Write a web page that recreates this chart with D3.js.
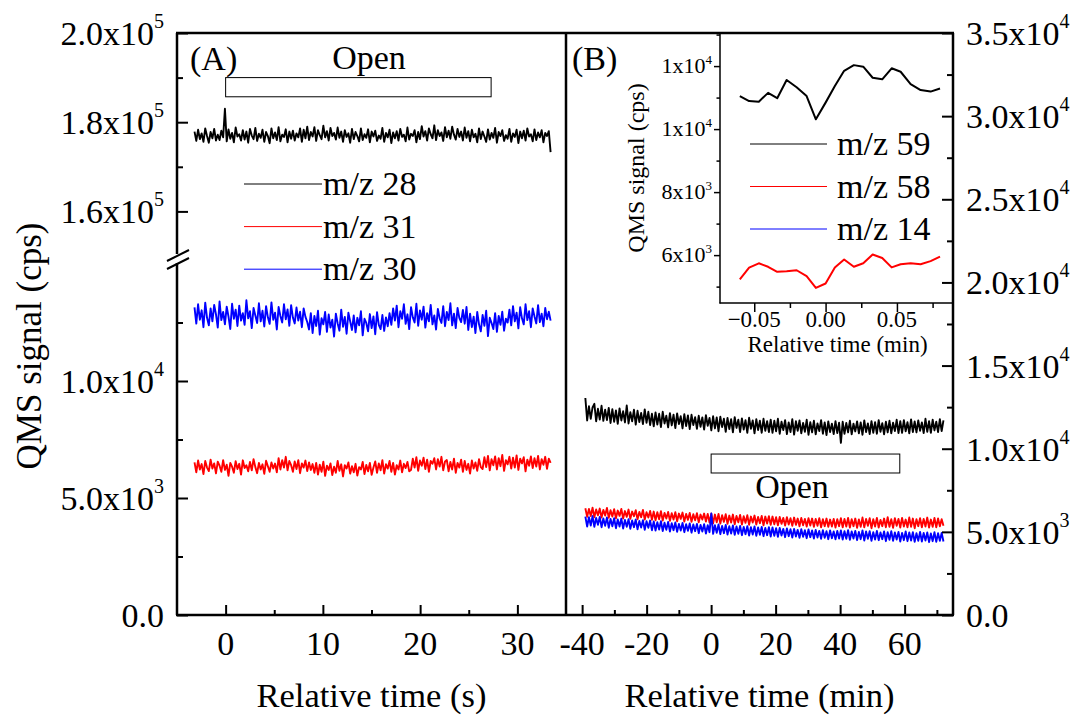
<!DOCTYPE html>
<html><head><meta charset="utf-8">
<script src="https://cdn.jsdelivr.net/npm/d3@7"></script>
<style>
html,body{margin:0;padding:0;background:#fff;}
svg, svg text{font-family:"Liberation Serif","Times New Roman","DejaVu Serif",serif;}
</style></head><body>
<svg id="chart" width="1073" height="716" font-family="Liberation Serif, Times New Roman, serif"></svg>
<script>
// ---------------- DATA ----------------
// Panel A: relative time (s), regular sampling; values in kcps
const timeA = {start: -3.2, step: 0.184};
const mz28 = [177.9,175.8,178.3,176.2,177.5,175.6,178.6,176.9,175.4,177.8,176.4,178.5,175.9,177.2,176.0,178.1,176.6,
183.0,
175.7,178.4,176.3,177.6,175.5,178.8,176.8,177.3,175.9,178.2,176.1,177.9,175.4,178.5,177.0,176.2,178.7,175.8,177.4,176.5,178.3,175.6,177.8,176.9,175.3,178.6,176.4,177.7,176.0,178.9,175.7,177.2,176.7,178.4,175.5,177.9,176.3,178.1,175.9,177.5,176.6,178.6,175.6,
178.3,176.4,179.0,176.0,177.8,176.8,178.9,175.8,178.2,177.1,176.2,179.2,176.6,178.0,175.9,178.7,176.9,177.6,176.1,178.8,176.5,177.9,
175.6,178.2,176.7,177.5,175.4,178.5,176.2,177.8,176.9,175.7,178.6,176.0,177.3,176.5,178.4,175.5,177.9,176.8,178.1,175.8,177.0,176.3,178.7,175.6,177.6,176.6,178.3,175.3,177.7,176.4,178.0,175.9,178.5,176.7,177.2,175.7,178.8,176.1,177.4,176.9,178.2,175.5,177.8,
176.2,179.1,176.8,178.0,175.9,178.6,177.3,176.4,179.3,176.0,178.2,176.9,177.7,175.8,178.9,176.6,178.1,176.3,179.0,177.2,176.1,178.5,176.7,177.9,175.9,178.8,176.5,178.0,
175.7,178.3,176.6,177.4,175.5,178.6,176.2,177.9,176.8,175.6,178.4,176.1,177.6,176.5,178.7,175.4,177.8,176.9,178.2,175.8,177.1,176.3,178.5,175.6,177.5,176.7,178.3,175.3,177.9,176.4,178.1,175.9,178.6,176.8,177.3,175.7,178.4,176.0,177.7,176.6,178.2,175.5,177.6,176.9,178.0,
173.3];
const mz31 = [6.52,6.10,6.60,6.22,6.45,6.02,6.58,6.30,6.15,6.64,6.26,6.48,6.05,6.55,6.38,6.12,6.62,6.20,6.42,5.95,6.50,6.34,6.08,6.57,6.24,6.46,6.00,6.61,6.28,6.40,6.14,6.54,6.18,6.66,6.32,6.06,6.50,6.22,6.44,6.03,6.59,6.36,6.12,6.52,6.26,6.47,6.10,
6.70,6.22,6.62,6.30,6.76,6.18,6.58,6.40,
6.12,6.56,6.24,6.62,6.06,6.48,6.30,6.60,6.15,6.52,6.20,6.45,6.08,
6.50,6.00,6.42,6.12,6.55,5.95,6.38,6.20,6.48,5.98,6.34,6.08,6.58,6.16,6.44,5.92,6.40,6.26,6.52,6.04,6.36,6.10,6.46,5.96,6.32,6.22,6.54,6.02,6.41,6.14,6.50,5.99,6.30,
6.56,6.08,6.48,6.18,6.62,6.04,6.44,6.26,6.58,6.12,6.50,6.00,6.40,6.22,6.60,6.10,6.46,6.28,6.54,6.14,
6.20,6.68,6.30,6.74,6.16,6.60,6.38,6.72,6.24,6.64,6.12,6.58,6.46,6.70,6.22,6.66,6.34,6.76,6.18,6.56,
6.62,6.14,6.54,6.22,6.68,6.08,6.50,6.30,6.64,6.12,6.58,6.20,6.46,6.04,6.60,6.26,6.52,6.16,6.66,6.32,
6.24,6.74,6.32,6.80,6.18,6.66,6.40,6.78,6.22,6.70,6.36,6.84,6.16,6.62,6.44,6.76,6.26,6.72,6.30,6.82,6.20,6.68,6.48,6.74,6.14,6.64,6.38,6.78,6.28,6.70,6.34,6.80,6.22,6.66,6.42,6.76,6.25,6.68,6.50];
const mz30 = [13.15,12.45,13.28,12.62,13.02,12.30,13.35,12.70,12.38,13.10,12.55,13.25,12.85,12.28,13.40,12.60,12.95,12.42,13.18,12.75,12.22,13.30,12.66,13.05,12.35,13.22,12.58,12.90,12.40,13.45,12.68,12.98,12.26,13.12,12.80,12.48,13.32,12.55,13.00,12.33,13.20,12.72,12.44,13.36,12.62,12.92,12.20,13.16,12.78,12.50,13.28,12.64,13.06,12.36,13.24,12.70,12.46,13.14,12.58,12.96,12.30,13.10,12.74,12.52,
12.20,12.90,12.05,12.78,12.35,13.00,11.98,12.68,12.42,12.95,12.10,12.84,12.28,12.62,11.90,12.88,12.46,12.15,13.05,12.32,12.74,12.02,12.92,12.55,12.18,12.80,12.08,12.70,12.38,12.98,11.95,12.66,12.48,12.12,12.86,12.26,12.76,12.00,12.94,12.40,12.22,12.82,12.14,12.72,12.34,12.90,
12.40,13.10,12.58,13.22,12.30,12.98,12.66,13.28,12.44,12.85,12.22,13.15,12.72,12.50,13.30,12.36,13.02,12.62,13.18,12.28,12.90,12.55,13.25,12.42,12.80,12.20,13.08,12.68,12.48,13.20,12.34,12.95,12.60,13.32,12.38,12.88,12.26,13.12,12.70,12.52,13.04,12.45,13.16,
12.18,12.88,12.30,12.75,12.05,12.95,12.42,12.12,12.82,12.36,13.00,11.92,12.70,12.48,12.22,12.90,12.10,12.78,12.40,12.96,12.15,12.66,12.50,
13.05,12.38,13.20,12.55,12.92,12.25,13.15,12.68,12.42,13.28,12.60,12.98,12.30,13.10,12.76,12.46,13.24,12.52,12.88,12.34,13.12,12.64,12.96,12.58];

// Panel B: relative time (min), regular sampling; values in kcps
const timeB = {start: -39, step: 0.558};
const mz59 = [13.05,11.70,12.55,11.80,12.48,12.70,11.65,12.40,11.75,12.58,11.68,12.35,11.72,
12.45,11.55,12.38,11.62,12.30,11.50,12.42,11.70,12.25,11.58,12.60,11.52,12.20,11.65,12.34,11.45,12.28,11.60,12.15,11.48,12.36,11.56,12.22,11.42,12.10,
11.35,12.18,11.45,12.10,11.30,12.22,11.52,11.98,11.28,12.14,11.40,12.05,11.24,12.12,11.48,11.95,11.22,12.08,11.36,12.00,11.18,12.04,11.42,11.90,11.20,11.98,11.32,11.88,11.15,12.02,11.38,11.85,
11.10,11.95,11.22,11.88,11.05,11.92,11.30,11.80,11.02,11.85,11.18,11.78,10.98,11.90,11.25,11.75,11.00,11.82,11.15,11.72,10.95,11.86,11.20,11.70,10.92,11.78,11.12,11.68,10.96,11.80,11.08,11.66,11.00,
11.75,10.95,11.68,11.05,11.80,10.90,11.62,11.12,11.72,10.88,11.58,11.00,11.78,10.85,11.65,11.08,11.70,10.92,11.55,11.02,11.74,10.84,11.60,10.98,11.68,10.86,11.52,11.06,11.72,10.90,11.58,10.82,11.64,11.00,11.50,10.88,11.66,10.94,11.56,
10.35,
11.62,10.90,11.55,10.98,11.68,10.86,11.50,11.04,11.64,10.92,11.58,10.84,11.70,11.00,11.52,10.88,11.66,10.96,11.60,10.90,11.72,11.02,11.54,10.86,11.62,10.98,11.68,10.92,11.56,11.06,11.74,10.94,
11.66,10.95,11.72,11.05,11.60,10.92,11.76,11.00,11.64,10.98,11.70,11.08,11.58,10.94,11.80,11.02,11.66,10.96,11.74,11.10,11.62,11.00,11.78,11.06,11.70];
const mz58 = [6.42,5.90,6.38,5.95,6.45,5.88,6.35,6.00,6.40,5.86,6.32,5.98,6.44,5.84,6.30,5.92,6.36,5.82,6.28,5.96,6.38,5.80,6.25,5.90,6.34,5.78,6.22,5.94,6.30,5.76,6.20,5.88,6.32,5.74,6.18,5.86,6.26,5.72,
6.22,5.70,6.18,5.76,6.24,5.68,6.14,5.80,6.20,5.66,6.12,5.74,6.18,5.64,6.10,5.78,6.16,5.62,6.08,5.72,6.14,5.60,6.06,5.70,6.12,5.58,6.04,5.74,6.10,5.62,6.08,5.56,
6.10,5.52,6.04,5.58,6.08,5.50,6.00,5.60,6.06,5.48,5.98,5.56,6.04,5.46,5.96,5.58,6.02,5.44,5.94,5.54,6.00,5.42,5.92,5.56,5.98,5.44,5.90,5.52,5.96,5.40,5.92,5.50,5.94,
5.42,5.92,5.46,5.88,5.40,5.90,5.48,5.84,5.38,5.88,5.44,5.82,5.36,5.86,5.42,5.80,5.34,5.84,5.40,5.78,5.32,5.82,5.38,5.80,5.30,5.78,5.36,5.82,5.28,5.76,5.34,5.80,5.30,5.74,5.32,5.78,5.26,5.76,5.34,
5.82,5.28,5.78,5.32,5.84,5.26,5.76,5.34,5.80,5.24,5.74,5.30,5.86,5.28,5.78,5.36,5.82,5.22,5.76,5.32,5.84,5.26,5.72,5.34,5.80,5.28,5.88,5.30,5.76,5.24,5.82,5.36,5.78,5.26,5.84,5.32,5.74,5.28,5.86,5.30,5.80,5.22,5.76,5.34,5.82,5.28,5.78,5.32,5.86,5.26,5.74,5.30,5.84,5.28,5.80,5.34,5.76,5.36];
const mz14 = [5.92,5.32,5.88,5.38,5.95,5.30,5.84,5.42,5.90,5.28,5.80,5.36,5.86,5.25,5.78,5.34,5.82,5.22,5.74,5.32,5.80,5.20,5.72,5.30,5.76,5.18,5.68,5.28,5.74,5.15,5.66,5.26,5.70,5.12,5.64,5.24,5.68,5.10,
5.62,5.08,5.58,5.14,5.64,5.05,5.55,5.12,5.60,5.02,5.52,5.10,5.56,5.00,5.48,5.08,5.54,4.98,5.46,5.06,5.50,4.95,5.44,5.04,5.48,4.92,5.42,5.02,5.46,4.90,5.40,4.98,
6.10,4.88,5.40,4.94,5.44,4.86,5.36,4.92,5.42,4.84,5.34,4.90,5.38,4.82,5.32,4.88,5.36,4.80,5.30,4.86,5.34,4.78,5.28,4.84,5.32,4.76,5.26,4.82,5.30,4.74,5.24,4.80,5.28,
4.72,5.26,4.76,5.22,4.70,5.24,4.78,5.18,4.68,5.20,4.74,5.16,4.66,5.18,4.72,5.12,4.64,5.16,4.70,5.10,4.62,5.14,4.68,5.08,4.60,5.12,4.66,5.06,4.58,5.10,4.64,5.04,4.56,5.08,4.62,5.02,4.55,5.06,4.60,
5.08,4.54,5.04,4.58,5.10,4.52,5.02,4.60,5.06,4.50,5.00,4.56,5.08,4.48,5.02,4.58,5.04,4.46,4.98,4.54,5.06,4.50,4.96,4.56,5.02,4.44,4.98,4.52,5.04,4.46,4.96,4.54,5.00,4.42,4.94,4.50,5.02,4.44,4.96,4.48,4.98,4.40,4.92,4.46,5.00,4.42,4.94,4.48,4.96,4.38,4.90,4.44,4.98,4.40,4.92,4.46,4.94,4.42];

// Inset: relative time (min), cps
const insetT = [-0.0601,-0.0536,-0.0468,-0.0403,-0.0339,-0.0273,-0.0203,-0.0133,-0.0068,0.0000,0.0065,0.0130,0.0198,0.0264,0.0330,0.0397,0.0463,0.0526,0.0596,0.0666,0.0736,0.0802];
const inset59 = [11050,10890,10870,11150,10980,11560,11330,11050,10310,10840,11370,11850,12030,11980,11630,11580,11930,11820,11430,11240,11190,11290];
const inset58 = [5230,5600,5740,5630,5470,5490,5520,5330,4960,5100,5610,5860,5630,5740,6020,5910,5610,5710,5740,5710,5810,5950];

// legends
const legendA = [{label:"m/z 28", color:"#000000"},{label:"m/z 31", color:"#ff0000"},{label:"m/z 30", color:"#0000ff"}];
const legendB = [{label:"m/z 59", color:"#000000"},{label:"m/z 58", color:"#ff0000"},{label:"m/z 14", color:"#0000ff"}];

// "Open" valve periods
const openA = {t0: 0, t1: 27.3, lo: 185700, hi: 190000};
const openB = {t0: 0, t1: 58.5, lo: 8540, hi: 9680};

// tick values
const ticksAx = [0,10,20,30], ticksAxMinor = [5,15,25];
const ticksBx = [-40,-20,0,20,40,60], ticksBxMinor = [-30,-10,10,30,50,70];
const ticksUp = [160000,180000,200000], ticksUpMinor = [170000,190000];
const ticksLo = [0,5000,10000], ticksLoMinor = [2500,7500,12500];
const ticksR = [0,5000,10000,15000,20000,25000,30000,35000], ticksRMinor = [2500,7500,12500,17500,22500,27500,32500];
const ticksIx = [-0.05,0,0.05], ticksIxMinor = [-0.025,0.025,0.075];
const ticksIy = [6000,8000,10000,12000], ticksIyMinor = [5000,7000,9000,11000,13000];

// ---------------- LAYOUT ----------------
const FONT = "Liberation Serif, Times New Roman, serif";
const svg = d3.select("#chart");
const L=177, M=566, R=953, T=33, B=615;
const xA = d3.scaleLinear().domain([-5,35]).range([L,M]);
const xB = d3.scaleLinear().domain([-45,75]).range([M,R]);
const yUp = d3.scaleLinear().domain([150000,200000]).range([256,T]);
const yLo = d3.scaleLinear().domain([0,15000]).range([B,264]);
const yR = d3.scaleLinear().domain([0,35000]).range([B,T]);
const xI = d3.scaleLinear().domain([-0.074,0.0893]).range([720,R]);
const yI = d3.scaleLinear().domain([4480,13050]).range([303,T]);

const tA = mz28.map((_,i)=>timeA.start + i*timeA.step);
const tB = mz59.map((_,i)=>timeB.start + i*timeB.step);

function txt(x, y, s, fs, anchor){
  return svg.append("text").attr("x",x).attr("y",y).attr("font-family",FONT)
    .attr("font-size",fs).attr("text-anchor",anchor||"start").attr("fill","#000").text(s);
}
function trace(xs, sx, sy, vals, mult, color, w){
  svg.append("path").datum(vals)
    .attr("fill","none").attr("stroke",color).attr("stroke-width",w)
    .attr("stroke-linejoin","round")
    .attr("d", d3.line().x((d,i)=>sx(xs[i])).y(d=>sy(d*mult)));
}

// main series
const TW = 1.9;
trace(tA, xA, yUp, mz28, 1000, "#000", TW);
trace(tA, xA, yLo, mz31, 1000, "#ff0000", TW);
trace(tA, xA, yLo, mz30, 1000, "#0000ff", TW);
trace(tB, xB, yR, mz59, 1000, "#000", TW);
trace(tB, xB, yR, mz58, 1000, "#ff0000", TW);
trace(tB, xB, yR, mz14, 1000, "#0000ff", TW);

// ticks
function tickSet(axisFn, scale, vals, size, tx, ty, w){
  const g = svg.append("g").attr("transform",`translate(${tx},${ty})`)
    .call(axisFn(scale).tickValues(vals).tickSize(size).tickFormat(""));
  g.select(".domain").remove();
  g.selectAll(".tick text").remove();
  g.selectAll(".tick line").attr("stroke","#000").attr("stroke-width",w||2);
  return g;
}
tickSet(d3.axisRight, yUp, ticksUp, 11, L, 0);
tickSet(d3.axisRight, yUp, ticksUpMinor, 6, L, 0);
tickSet(d3.axisRight, yLo, ticksLo, 11, L, 0);
tickSet(d3.axisRight, yLo, ticksLoMinor, 6, L, 0);
tickSet(d3.axisLeft, yR, ticksR, 11, R, 0);
tickSet(d3.axisLeft, yR, ticksRMinor, 6, R, 0);
tickSet(d3.axisTop, xA, ticksAx, 10, 0, B);
tickSet(d3.axisTop, xA, ticksAxMinor, 5, 0, B);
tickSet(d3.axisTop, xB, ticksBx, 10, 0, B);
tickSet(d3.axisTop, xB, ticksBxMinor, 5, 0, B);

// frame
const frame = svg.append("g").attr("stroke","#000").attr("stroke-width",2.5).attr("fill","none");
frame.append("line").attr("x1",L-1).attr("x2",R+1).attr("y1",T).attr("y2",T);
frame.append("line").attr("x1",L-1).attr("x2",R+1).attr("y1",B).attr("y2",B);
frame.append("line").attr("x1",M).attr("x2",M).attr("y1",T).attr("y2",B);
frame.append("line").attr("x1",R).attr("x2",R).attr("y1",T).attr("y2",B);
frame.append("line").attr("x1",L).attr("x2",L).attr("y1",T).attr("y2",yUp(150000)-2);
frame.append("line").attr("x1",L).attr("x2",L).attr("y1",yLo(15000)-1).attr("y2",B);
// axis break marks
frame.append("line").attr("x1",L-10).attr("y1",261).attr("x2",L+12).attr("y2",250).attr("stroke-width",2);
frame.append("line").attr("x1",L-10).attr("y1",269).attr("x2",L+12).attr("y2",258).attr("stroke-width",2);

// tick labels
const FS=34, SFS=20;
function sci(v, digits){
  if (v===0) return {m:"0.0", e:null};
  const e = Math.floor(Math.log10(v)+1e-9);
  return {m:(v/Math.pow(10,e)).toFixed(digits)+"x10", e:String(e)};
}
function sciText(x, y, v, digits, anchor, fs, sfs, sdy){
  const s = sci(v, digits);
  const t = txt(x, y, null, fs, anchor);
  t.append("tspan").text(s.m);
  if (s.e) t.append("tspan").attr("font-size",sfs).attr("dy",sdy).text(s.e);
}
ticksUp.forEach(v=>sciText(164, yUp(v)+12, v, 1, "end", FS, SFS, -17));
ticksLo.forEach(v=>sciText(164, yLo(v)+12, v, 1, "end", FS, SFS, -17));
ticksR.forEach(v=>sciText(966, yR(v)+12, v, 1, "start", FS, SFS, -17));
ticksAx.forEach(v=>txt(xA(v), 655, String(v), FS, "middle"));
ticksBx.forEach(v=>txt(xB(v), 655, String(v), FS, "middle"));

// axis titles
txt((L+M)/2, 707, "Relative time (s)", 34.5, "middle");
txt((M+R)/2, 707, "Relative time (min)", 34.5, "middle");
txt(0, 0, "QMS signal (cps)", 35, "middle").attr("transform","translate(41,346) rotate(-90)");

// panel letters
txt(190, 70, "(A)", FS);
txt(572, 70, "(B)", FS);

// Open annotations
svg.append("rect").attr("x",xA(openA.t0)).attr("y",yUp(openA.hi)).attr("width",xA(openA.t1)-xA(openA.t0)).attr("height",yUp(openA.lo)-yUp(openA.hi))
  .attr("fill","none").attr("stroke","#000").attr("stroke-width",1);
txt(369, 69, "Open", FS, "middle");
svg.append("rect").attr("x",xB(openB.t0)).attr("y",yR(openB.hi)).attr("width",xB(openB.t1)-xB(openB.t0)).attr("height",yR(openB.lo)-yR(openB.hi))
  .attr("fill","none").attr("stroke","#000").attr("stroke-width",1);
txt(792, 498, "Open", FS, "middle");

// legend A
legendA.forEach((d,i)=>{
  const y = 184 + i*42.6;
  svg.append("line").attr("x1",244).attr("x2",322).attr("y1",y).attr("y2",y).attr("stroke",d.color).attr("stroke-width",1);
  txt(323, y+11, d.label, FS);
});

// ---------------- INSET ----------------
trace(insetT, xI, yI, inset59, 1, "#000", 2);
trace(insetT, xI, yI, inset58, 1, "#ff0000", 2);
tickSet(d3.axisLeft, yI, ticksIy, 6, 720, 0, 1.5);
tickSet(d3.axisLeft, yI, ticksIyMinor, 3.5, 720, 0, 1.5);
tickSet(d3.axisBottom, xI, ticksIx, 9, 0, 303, 1.5);
tickSet(d3.axisBottom, xI, ticksIxMinor, 5, 0, 303, 1.5);
const ig = svg.append("g").attr("stroke","#000").attr("stroke-width",1.5);
ig.append("line").attr("x1",720).attr("x2",720).attr("y1",T).attr("y2",303.5);
ig.append("line").attr("x1",719.5).attr("x2",R).attr("y1",303).attr("y2",303);
ticksIy.forEach(v=>sciText(712, yI(v)+7, v, 0, "end", 22, 13, -9));
ticksIx.forEach(v=>txt(xI(v), 327, d3.format(".2f")(v), 23, "middle"));
txt((720+R)/2+1, 352, "Relative time (min)", 23, "middle");
txt(0, 0, "QMS signal (cps)", 24, "middle").attr("transform","translate(644,168) rotate(-90)");
legendB.forEach((d,i)=>{
  const y = 144 + i*42.5;
  svg.append("line").attr("x1",750).attr("x2",827).attr("y1",y).attr("y2",y).attr("stroke",d.color).attr("stroke-width",1);
  txt(837, y+11, d.label, FS);
});
</script>
</body></html>
